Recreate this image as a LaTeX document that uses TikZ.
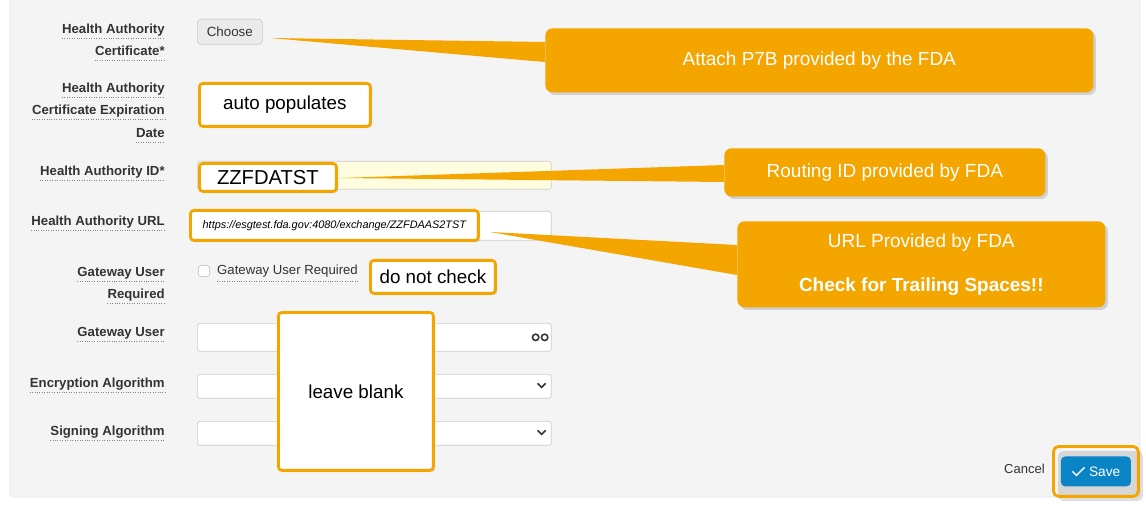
\documentclass[tikz,border=0pt]{standalone}
\usepackage{fontspec}
\setmainfont{Liberation Sans}
\usetikzlibrary{positioning,shadows,calc}
\definecolor{callorange}{HTML}{F5A500}
\definecolor{panelgray}{HTML}{F4F4F4}
\definecolor{labelgray}{HTML}{333333}
\definecolor{inputline}{HTML}{CCCCCC}
\definecolor{savblue}{HTML}{0A84C6}
\tikzset{
  lbl/.style={font=\fontsize{7.5}{9}\selectfont\bfseries, text=labelgray, anchor=east, inner sep=0pt},
  inbox/.style={draw=inputline, fill=white, rounded corners=1.5pt, anchor=north west, inner sep=0pt},
  note/.style={draw=callorange, line width=1.6pt, fill=white, rounded corners=2pt, anchor=north west, inner sep=0pt, font=\fontsize{10.7}{12}\selectfont, drop shadow={opacity=.25, shadow xshift=1pt, shadow yshift=-1pt}},
  callout/.style={fill=callorange, rounded corners=4pt, anchor=north west, inner sep=0pt, text=white, font=\fontsize{10.8}{13}\selectfont, drop shadow={opacity=.3, shadow xshift=1.5pt, shadow yshift=-1.5pt}},
  pointer/.style={fill=callorange}
}
\newcommand{\lblu}[3]{% dotted underline label
  \node[lbl] (#1) at (165,#2) {#3};
  \draw[densely dotted, labelgray!60] ($(#1.base west)+(0,5)$) -- ($(#1.base east)+(0,5)$);}
\begin{document}
\begin{tikzpicture}[x=0.02cm,y=-0.02cm]
\useasboundingbox (0,0) rectangle (1146,513);
\fill[white] (0,0) rectangle (1146,513);
\draw[panelgray!80!black!40, fill=panelgray, rounded corners=2pt] (10,-5) rectangle (1140,497);
% labels
\lblu{la}{30}{Health Authority}
\lblu{lb}{51}{Certificate*}
\lblu{lc}{89}{Health Authority}
\lblu{ld}{111}{Certificate Expiration}
\lblu{le}{133}{Date}
\lblu{lf}{172}{Health Authority ID*}
\lblu{lg}{222}{Health Authority URL}
\lblu{lh}{273}{Gateway User}
\lblu{li}{295}{Required}
\lblu{lj}{333}{Gateway User}
\lblu{lk}{384}{Encryption Algorithm}
\lblu{ll}{432}{Signing Algorithm}
% inputs
\node[draw=inputline, fill=black!8, rounded corners=2pt, minimum width=1.3cm, minimum height=0.5cm, anchor=north west, font=\fontsize{7.6}{9}\selectfont, text=labelgray] (choose) at (197,19) {Choose};
\node[inbox, fill=yellow!12, minimum width=7.08cm, minimum height=0.56cm] (haid) at (197,161) {};
\node[inbox, minimum width=7.08cm, minimum height=0.58cm] (haurl) at (197,211) {};
\node[inbox, minimum width=7.08cm, minimum height=0.56cm] (gwuser) at (197,323) {};
\node[inbox, minimum width=7.08cm, minimum height=0.48cm] (encalg) at (197,374) {};
\node[inbox, minimum width=7.08cm, minimum height=0.48cm] (sigalg) at (197,421) {};
\foreach \n in {encalg,sigalg}
  \draw[line width=0.9pt, labelgray] ($(\n.east)+(-14,-3)$) -- ($(\n.east)+(-10,1)$) -- ($(\n.east)+(-6,-3)$);
\draw[line width=0.9pt, labelgray] ($(gwuser.east)+(-16,0)$) circle (3.2) ($(gwuser.east)+(-7,0)$) circle (3.2);
\node[draw=inputline, fill=white, rounded corners=1pt, minimum size=0.22cm, inner sep=0pt] (chk) at (204,271) {};
\node[right=4pt of chk, font=\fontsize{7.5}{9}\selectfont, text=labelgray, inner sep=0pt] (chklbl) {Gateway User Required};
\draw[densely dotted, labelgray!60] ($(chklbl.base west)+(0,7)$) -- ($(chklbl.base east)+(0,7)$);
% callouts
\fill[pointer] (545,42) -- (270,38) -- (545,62) -- cycle;
\node[callout, minimum width=10.96cm, minimum height=1.28cm] (attach) at (545,28) {Attach P7B provided by the FDA};
\fill[pointer] (724,165) -- (340,178) -- (724,182) -- cycle;
\node[callout, minimum width=6.42cm, minimum height=0.96cm] (routing) at (724,148) {Routing ID provided by FDA};
\fill[pointer] (737,245) -- (490,232) -- (737,275) -- cycle;
\node[callout, minimum width=7.36cm, minimum height=1.72cm, align=center] (urlnote) at (737,221) {URL Provided by FDA\\[12pt]\bfseries Check for Trailing Spaces!!};
% notes
\node[note, minimum width=3.42cm, minimum height=0.86cm] (autopop) at (198,82) {auto populates};
\node[note, minimum width=2.74cm, minimum height=0.56cm, font=\fontsize{11.5}{13}\selectfont] (zzfda) at (198,162) {ZZFDATST};
\node[note, minimum width=5.76cm, minimum height=0.6cm, font=\fontsize{6.2}{7}\selectfont\itshape] (urltext) at (189,209) {https://esgtest.fda.gov:4080/exchange/ZZFDAAS2TST};
\node[note, minimum width=2.5cm, minimum height=0.66cm] (nocheck) at (369,259) {do not check};
\node[note, minimum width=3.1cm, minimum height=3.16cm] (blank) at (277,311) {leave blank};
% buttons
\node[font=\fontsize{7.4}{9}\selectfont, text=labelgray, anchor=east, inner sep=0pt] (cancel) at (1045,469) {Cancel};
\node[draw=callorange, line width=1.6pt, rounded corners=3pt, minimum width=1.7cm, minimum height=1cm, anchor=north west, drop shadow={opacity=.25}] (saveframe) at (1052,445) {};
\node[fill=savblue, rounded corners=2.5pt, minimum width=1.4cm, minimum height=0.6cm, text=white, font=\fontsize{7.8}{9}\selectfont] (save) at (saveframe.center) {\hspace{10pt}Save};
\draw[white, line width=0.8pt] ($(save.west)+(12,0)$) -- ($(save.west)+(16,4)$) -- ($(save.west)+(24,-4)$);
\end{tikzpicture}
\end{document}
